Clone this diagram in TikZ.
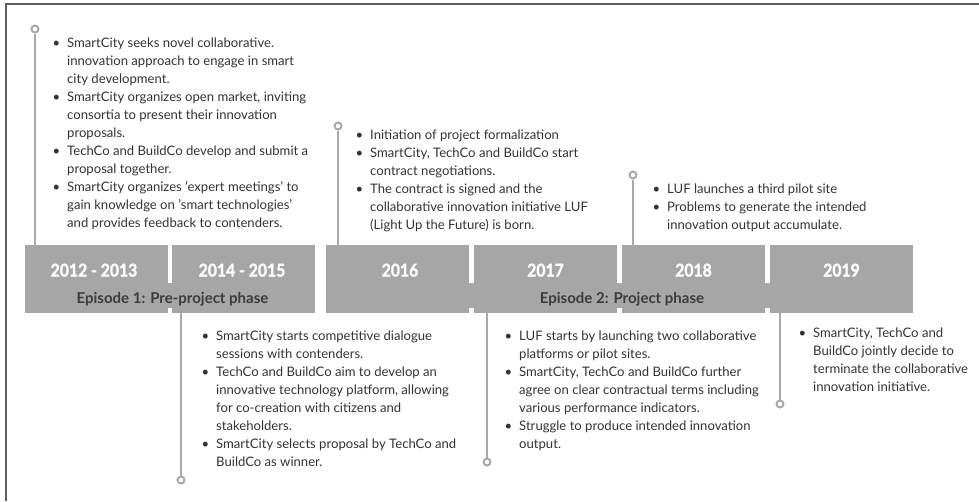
\documentclass[tikz,border=0pt]{standalone}
\usepackage{fontspec}
\setmainfont{Lato}
\newfontfamily\yearfont{Lato}[BoldFeatures={FakeBold=1.6}]
\definecolor{barcol}{HTML}{A6A6A6}
\definecolor{linecol}{HTML}{A9A9A9}
\definecolor{textcol}{HTML}{333333}
\definecolor{epcol}{HTML}{3C3C3C}
\definecolor{framecol}{HTML}{5E5E5E}
\newcommand{\bl}{\llap{\textbullet\hspace{7pt}}}
\tikzset{
  yearbox/.style={fill=barcol, minimum width=143pt, minimum height=68pt, inner sep=0pt, anchor=north west},
  band/.style={fill=barcol, minimum height=25pt, inner sep=0pt, anchor=north west},
  yeartxt/.style={text=white, font=\fontsize{17.5}{17.5}\selectfont\yearfont\bfseries, inner sep=0pt, anchor=base},
  eptxt/.style={text=epcol, font=\fontsize{15}{15}\selectfont\bfseries, inner sep=0pt, anchor=base},
  bullets/.style={text=textcol, font=\fontsize{13.1}{18}\selectfont, inner sep=0pt, anchor=base west},
  dot/.style={circle, draw=linecol, line width=2pt, fill=white, minimum size=7pt, inner sep=0pt},
  conn/.style={draw=linecol, line width=2.4pt}
}
\begin{document}
\begin{tikzpicture}[x=1pt, y=-1pt]
\useasboundingbox (0,0) rectangle (979,501);
% frame edges
\draw[framecol, line width=2pt] (6,501) -- (6,4) -- (979,4);

% year blocks
\node[yearbox] (b1) at (25,245) {};
\node[yearbox] (b2) at (171.5,245) {};
\node[yearbox] (b3) at (326,245) {};
\node[yearbox] (b4) at (474,245) {};
\node[yearbox] (b5) at (622,245) {};
\node[yearbox] (b6) at (770,245) {};

% episode bands
\node[band, minimum width=289pt] (e1) at (25,283) {};
\node[band, minimum width=587pt] (e2) at (326,283) {};

% year labels
\node[yeartxt] (y1) at (94,276.5) {\scalebox{0.9}[1]{2012 - 2013}};
\node[yeartxt] (y2) at (242,276.5) {\scalebox{0.9}[1]{2014 - 2015}};
\node[yeartxt] (y3) at (400,276.5) {\scalebox{0.9}[1]{2016}};
\node[yeartxt] (y4) at (545.5,276.5) {\scalebox{0.9}[1]{2017}};
\node[yeartxt] (y5) at (693.5,276.5) {\scalebox{0.9}[1]{2018}};
\node[yeartxt] (y6) at (841.5,276.5) {\scalebox{0.9}[1]{2019}};

% episode labels
\node[eptxt] (l1) at (172.5,303) {Episode 1: Pre-project phase};
\node[eptxt] (l2) at (622,303) {Episode 2: Project phase};

% connector end points
\node[dot] (d1) at (35,29) {};
\node[dot] (d2) at (181,480) {};
\node[dot] (d3) at (338,126) {};
\node[dot] (d4) at (487,462) {};
\node[dot] (d5) at (633,175) {};
\node[dot] (d6) at (780,404) {};

% connectors
\draw[conn] (d1) -- (d1 |- b1.north);
\draw[conn] (d2) -- (d2 |- b2.south);
\draw[conn] (d3) -- (d3 |- b3.north);
\draw[conn] (d4) -- (d4 |- b4.south);
\draw[conn] (d5) -- (d5 |- b5.north);
\draw[conn] (d6) -- (d6 |- b6.south);

% event descriptions
\node[bullets] (t1) at (67,47) {\begin{tabular}[t]{@{}l@{}}
\bl SmartCity seeks novel collaborative.\\
innovation approach to engage in smart\\
city development.\\
\bl SmartCity organizes open market, inviting\\
consortia to present their innovation\\
proposals.\\
\bl TechCo and BuildCo develop and submit a\\
proposal together.\\
\bl SmartCity organizes 'expert meetings' to\\
gain knowledge on 'smart technologies'\\
and provides feedback to contenders.
\end{tabular}};

\node[bullets] (t2) at (216,340) {\begin{tabular}[t]{@{}l@{}}
\bl SmartCity starts competitive dialogue\\
sessions with contenders.\\
\bl TechCo and BuildCo aim to develop an\\
innovative technology platform, allowing\\
for co-creation with citizens and\\
stakeholders.\\
\bl SmartCity selects proposal by TechCo and\\
BuildCo as winner.
\end{tabular}};

\node[bullets] (t3) at (370,139) {\begin{tabular}[t]{@{}l@{}}
\bl Initiation of project formalization\\
\bl SmartCity, TechCo and BuildCo start\\
contract negotiations.\\
\bl The contract is signed and the\\
collaborative innovation initiative LUF\\
(Light Up the Future) is born.
\end{tabular}};

\node[bullets] (t4) at (519,340) {\begin{tabular}[t]{@{}l@{}}
\bl LUF starts by launching two collaborative\\
platforms or pilot sites.\\
\bl SmartCity, TechCo and BuildCo further\\
agree on clear contractual terms including\\
various performance indicators.\\
\bl Struggle to produce intended innovation\\
output.
\end{tabular}};

\node[bullets] (t5) at (667,193) {\begin{tabular}[t]{@{}l@{}}
\bl LUF launches a third pilot site\\
\bl Problems to generate the intended\\
innovation output accumulate.
\end{tabular}};

\node[bullets] (t6) at (813,337) {\begin{tabular}[t]{@{}l@{}}
\bl SmartCity, TechCo and\\
BuildCo jointly decide to\\
terminate the collaborative\\
innovation initiative.
\end{tabular}};
\end{tikzpicture}
\end{document}
